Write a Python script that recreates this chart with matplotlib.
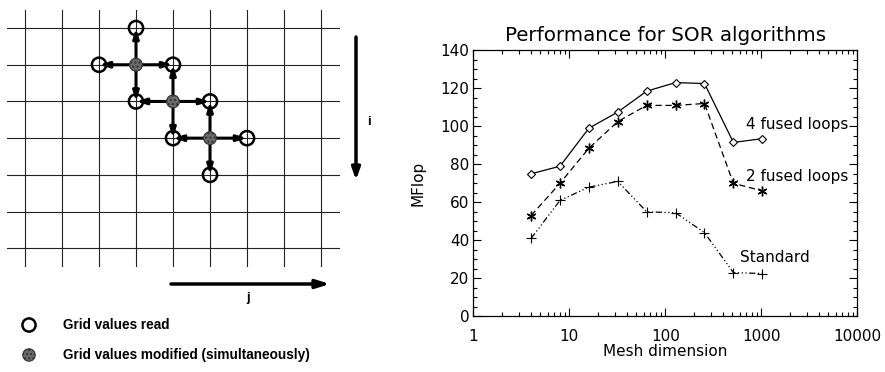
import matplotlib
matplotlib.use("Agg")
from matplotlib import pyplot as plt
from matplotlib.ticker import FixedLocator, NullFormatter

plt.rcParams['font.family'] = ['DejaVu Sans']

# ---- data: SOR performance ----
mesh = [4, 8, 16, 32, 64, 128, 256, 512, 1024]
fused4 = [75, 79, 99, 107.5, 118.5, 123, 122.5, 91.5, 93.5]
fused2 = [53, 70, 88.5, 102.5, 111, 111, 112, 70, 66]
standard = [41, 61, 68, 71, 55, 54.5, 44, 23, 22.5]

# ---- data: grid stencil diagram (column, row) ----
n_cols = 9
n_rows = 7
modified = [(3, 1), (4, 2), (5, 3)]
read = [(3, 0), (2, 1), (4, 1), (3, 2), (5, 2), (4, 3), (6, 3), (5, 4)]

W, H = 885, 372
fig = plt.figure(figsize=(W / 100, H / 100), dpi=100)

# ---------- left: grid diagram ----------
gx0, gy0, gx1, gy1 = 6.5, 9.7, 339.5, 266.6
gax = fig.add_axes([gx0 / W, 1 - gy1 / H, (gx1 - gx0) / W, (gy1 - gy0) / H])
gax.set_xlim(-0.5, n_cols - 0.5)
gax.set_ylim(n_rows - 0.5, -0.5)
gax.axis("off")
for c in range(n_cols):
    gax.plot([c, c], [-0.5, n_rows - 0.5], color="#222222", lw=0.8)
for r in range(n_rows):
    gax.plot([-0.5, n_cols - 0.5], [r, r], color="#222222", lw=0.8)

# arrows from each modified point to its read neighbours
read_set = set(read)
for (c, r) in modified:
    for dc, dr in [(0, -1), (0, 1), (-1, 0), (1, 0)]:
        nb = (c + dc, r + dr)
        if nb in read_set:
            gax.annotate("", xy=nb, xytext=(c, r),
                         arrowprops=dict(arrowstyle="-|>,head_length=0.55,head_width=0.17",
                                         color="black", lw=2.2,
                                         shrinkA=4, shrinkB=0), zorder=3)

gax.scatter([p[0] for p in read], [p[1] for p in read], s=105,
            facecolors="none", edgecolors="black", linewidths=1.8, zorder=4)
gax.scatter([p[0] for p in modified], [p[1] for p in modified], s=85,
            facecolors="#6a6a6a", edgecolors="#333333", linewidths=0.8,
            hatch="....", zorder=5)

# overlay in pixel coordinates for direction arrows and key
oax = fig.add_axes([0, 0, 1, 1])
oax.set_xlim(0, W)
oax.set_ylim(H, 0)
oax.axis("off")
oax.annotate("", xy=(356, 180), xytext=(356, 37),
             arrowprops=dict(arrowstyle="-|>,head_length=0.7,head_width=0.25",
                             color="black", lw=2.5, shrinkA=0, shrinkB=0))
oax.text(369, 122, "i", fontsize=9.5, fontweight="bold", family="Liberation Sans",
         ha="center", va="center")
oax.annotate("", xy=(330, 284), xytext=(171, 284),
             arrowprops=dict(arrowstyle="-|>,head_length=0.8,head_width=0.25",
                             color="black", lw=2.5, shrinkA=0, shrinkB=0))
oax.text(248, 298, "j", fontsize=9.5, fontweight="bold", family="Liberation Sans",
         ha="center", va="center")
oax.scatter([29], [325], s=90, facecolors="none", edgecolors="black", linewidths=1.8)
oax.scatter([29], [355], s=80, facecolors="#6a6a6a", edgecolors="#333333",
            linewidths=0.8, hatch="....")
oax.text(63, 325, "Grid values read", fontsize=9.8, fontweight="bold",
         family="Liberation Sans", va="center")
oax.text(63, 355, "Grid values modified (simultaneously)", fontsize=9.8,
         fontweight="bold", family="Liberation Sans", va="center")

# ---------- right: performance plot ----------
ax = fig.add_axes([473.3 / W, 1 - 316.3 / H, 384 / W, 266 / H])
ax.plot(mesh, fused4, color="black", lw=0.9, ls="-", marker="D",
        markersize=4, markerfacecolor="white", markeredgewidth=0.8)
ax.plot(mesh, fused2, color="black", lw=0.9, ls=(0, (5, 3)), marker=(6, 2, 0),
        markersize=7, markeredgewidth=1.0)
ax.plot(mesh, standard, color="black", lw=0.9, ls=(0, (5, 2, 1, 2, 1, 2, 1, 2)),
        marker="+", markersize=7, markeredgewidth=0.8)

ax.set_xscale("log")
ax.set_xlim(1, 10000)
ax.set_ylim(0, 140)
ax.set_xticks([1, 10, 100, 1000, 10000])
ax.set_xticklabels(["1", "10", "100", "1000", "10000"])
ax.xaxis.set_minor_locator(FixedLocator([m * 10 ** e for e in range(4) for m in range(2, 10)]))
ax.xaxis.set_minor_formatter(NullFormatter())
ax.set_yticks(range(0, 141, 20))
ax.yaxis.set_minor_locator(FixedLocator(range(0, 141, 5)))
ax.tick_params(which="both", direction="in", top=True, right=True, width=0.8)
ax.tick_params(which="major", length=6, labelsize=11)
ax.tick_params(which="minor", length=3)
ax.tick_params(axis="x", pad=9)
ax.tick_params(axis="y", pad=3)
for s in ax.spines.values():
    s.set_linewidth(0.9)

ax.text(686, 100.7, "4 fused loops", fontsize=11, va="center")
ax.text(686, 73.5, "2 fused loops", fontsize=11, va="center")
ax.text(607, 30.7, "Standard", fontsize=11, va="center")

ax.set_title("Performance for SOR algorithms", fontsize=14.3, pad=7)
ax.set_xlabel("Mesh dimension", fontsize=11)
ax.xaxis.set_label_coords(0.5, -0.103)
ax.set_ylabel("MFlop", fontsize=11)
ax.yaxis.set_label_coords(-0.125, 0.5)

fig.savefig("out.png", dpi=100)
